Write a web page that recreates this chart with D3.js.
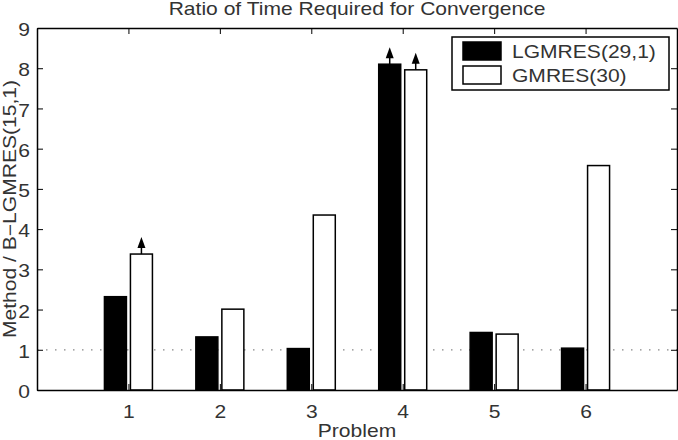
<!DOCTYPE html>
<html>
<head>
<meta charset="utf-8">
<script src="https://cdn.jsdelivr.net/npm/d3@7"></script>
<style>
  body { margin: 0; background: #fff; }
  text { font-family: "Liberation Sans", Arial, sans-serif; fill: #333; }
</style>
</head>
<body>
<svg id="chart" width="678" height="440"></svg>
<script>
// data
const problems = [1, 2, 3, 4, 5, 6];
const seriesNames = ["LGMRES(29,1)", "GMRES(30)"];
const lgmres = [2.32, 1.32, 1.03, 8.1, 1.43, 1.04];
const gmres = [3.38, 2.01, 4.35, 7.96, 1.39, 5.58];
// bars whose true value runs past what is drawn (arrow on top)
const lgmresArrow = [false, false, false, true, false, false];
const gmresArrow = [true, false, false, true, false, false];
const yTicks = [0, 1, 2, 3, 4, 5, 6, 7, 8, 9];
const refLine = 1;

const svg = d3.select("#chart");
const sx = 1.17; // text in the picture is a bit wide
const margin = { left: 37, right: 1, top: 28, bottom: 50 };
const width = 678, height = 440;

const x = d3.scaleLinear().domain([0, 7]).range([margin.left, width - margin.right]);
const y = d3.scaleLinear().domain([0, 9]).range([height - margin.bottom, margin.top]);
const xs = d3.scaleBand().domain(seriesNames).range([-24, 24]).paddingInner(0.154);

const rows = problems.map((p, i) => ({
  p,
  vals: [
    { name: seriesNames[0], v: lgmres[i], arrow: lgmresArrow[i], fill: "#000" },
    { name: seriesNames[1], v: gmres[i], arrow: gmresArrow[i], fill: "#fff" }
  ]
}));

// dotted reference line
svg.append("line")
  .attr("x1", x(0)).attr("x2", x(7))
  .attr("y1", y(refLine)).attr("y2", y(refLine))
  .attr("stroke", "#888").attr("stroke-width", 1.2)
  .attr("stroke-dasharray", "1.5,7.5");

// bars
const groups = svg.selectAll("g.grp").data(rows).join("g")
  .attr("class", "grp")
  .attr("transform", d => `translate(${x(d.p)},0)`);

groups.selectAll("rect").data(d => d.vals).join("rect")
  .attr("x", d => xs(d.name))
  .attr("width", xs.bandwidth())
  .attr("y", d => y(d.v))
  .attr("height", d => y(0) - y(d.v))
  .attr("fill", d => d.fill)
  .attr("stroke", "#000")
  .attr("stroke-width", 1.5);

// arrows on clipped bars
const arr = groups.selectAll("g.arrow").data(d => d.vals.filter(v => v.arrow)).join("g")
  .attr("class", "arrow")
  .attr("transform", d => `translate(${xs(d.name) + xs.bandwidth() / 2},${y(d.v)})`);
arr.append("line")
  .attr("y1", 0).attr("y2", -8)
  .attr("stroke", "#000").attr("stroke-width", 1.5);
arr.append("path")
  .attr("d", "M-4,-6 L4,-6 L0,-17 Z")
  .attr("fill", "#000");

// axes (ticks point inward)
function fixText(sel) {
  sel.selectAll("text").attr("font-size", 18).attr("fill", "#333");
}
const axBottom = svg.append("g")
  .attr("transform", `translate(0,${y(0)})`)
  .call(d3.axisBottom(x).tickValues(problems).tickFormat(d3.format("d"))
    .tickSizeInner(-6).tickSizeOuter(0).tickPadding(15));
axBottom.selectAll(".tick text").attr("transform", `scale(${sx},1)`);

const axLeft = svg.append("g")
  .attr("transform", `translate(${x(0)},0)`)
  .call(d3.axisLeft(y).tickValues(yTicks).tickFormat(d3.format("d"))
    .tickSizeInner(-6).tickSizeOuter(0).tickPadding(6));
axLeft.selectAll(".tick text").attr("transform", `scale(${sx},1)`).attr("dy", "0.42em");

const axTop = svg.append("g")
  .attr("transform", `translate(0,${y(9)})`)
  .call(d3.axisTop(x).tickValues(problems).tickSizeInner(-6).tickSizeOuter(0).tickFormat(""));

const axRight = svg.append("g")
  .attr("transform", `translate(${x(7)},0)`)
  .call(d3.axisRight(y).tickValues(yTicks).tickSizeInner(-6).tickSizeOuter(0).tickFormat(""));

[axBottom, axLeft, axTop, axRight].forEach(a => {
  fixText(a);
  a.select(".domain").attr("stroke", "#000").attr("stroke-width", 1.5);
  a.selectAll(".tick line").attr("stroke", "#000").attr("stroke-width", 1);
});

// titles
function label(txt, tx, ty, rot, size) {
  svg.append("g")
    .attr("transform", `translate(${tx},${ty}) rotate(${rot})`)
    .append("text")
    .attr("text-anchor", "middle")
    .attr("font-size", size)
    .attr("transform", `scale(${sx},1)`)
    .text(txt);
}
const cx = (x(0) + x(7)) / 2;
label("Ratio of Time Required for Convergence", cx, 15, 0, 18);
label("Problem", cx, 437, 0, 18);
label("Method / B\u2212LGMRES(15,1)", 16, (y(0) + y(9)) / 2, -90, 18);

// legend
const legend = svg.append("g").attr("transform", "translate(452,37)");
legend.append("rect")
  .attr("width", 217).attr("height", 53)
  .attr("fill", "#fff").attr("stroke", "#000").attr("stroke-width", 1.5);
const items = legend.selectAll("g.item").data(seriesNames).join("g")
  .attr("class", "item")
  .attr("transform", (d, i) => `translate(11,${5 + i * 24})`);
items.append("rect")
  .attr("width", 38).attr("height", 18)
  .attr("fill", (d, i) => i === 0 ? "#000" : "#fff")
  .attr("stroke", "#000").attr("stroke-width", 1.5);
items.append("g").attr("transform", "translate(49,16)")
  .append("text")
  .attr("font-size", 18)
  .attr("transform", `scale(${sx},1)`)
  .text(d => d);
</script>
</body>
</html>
